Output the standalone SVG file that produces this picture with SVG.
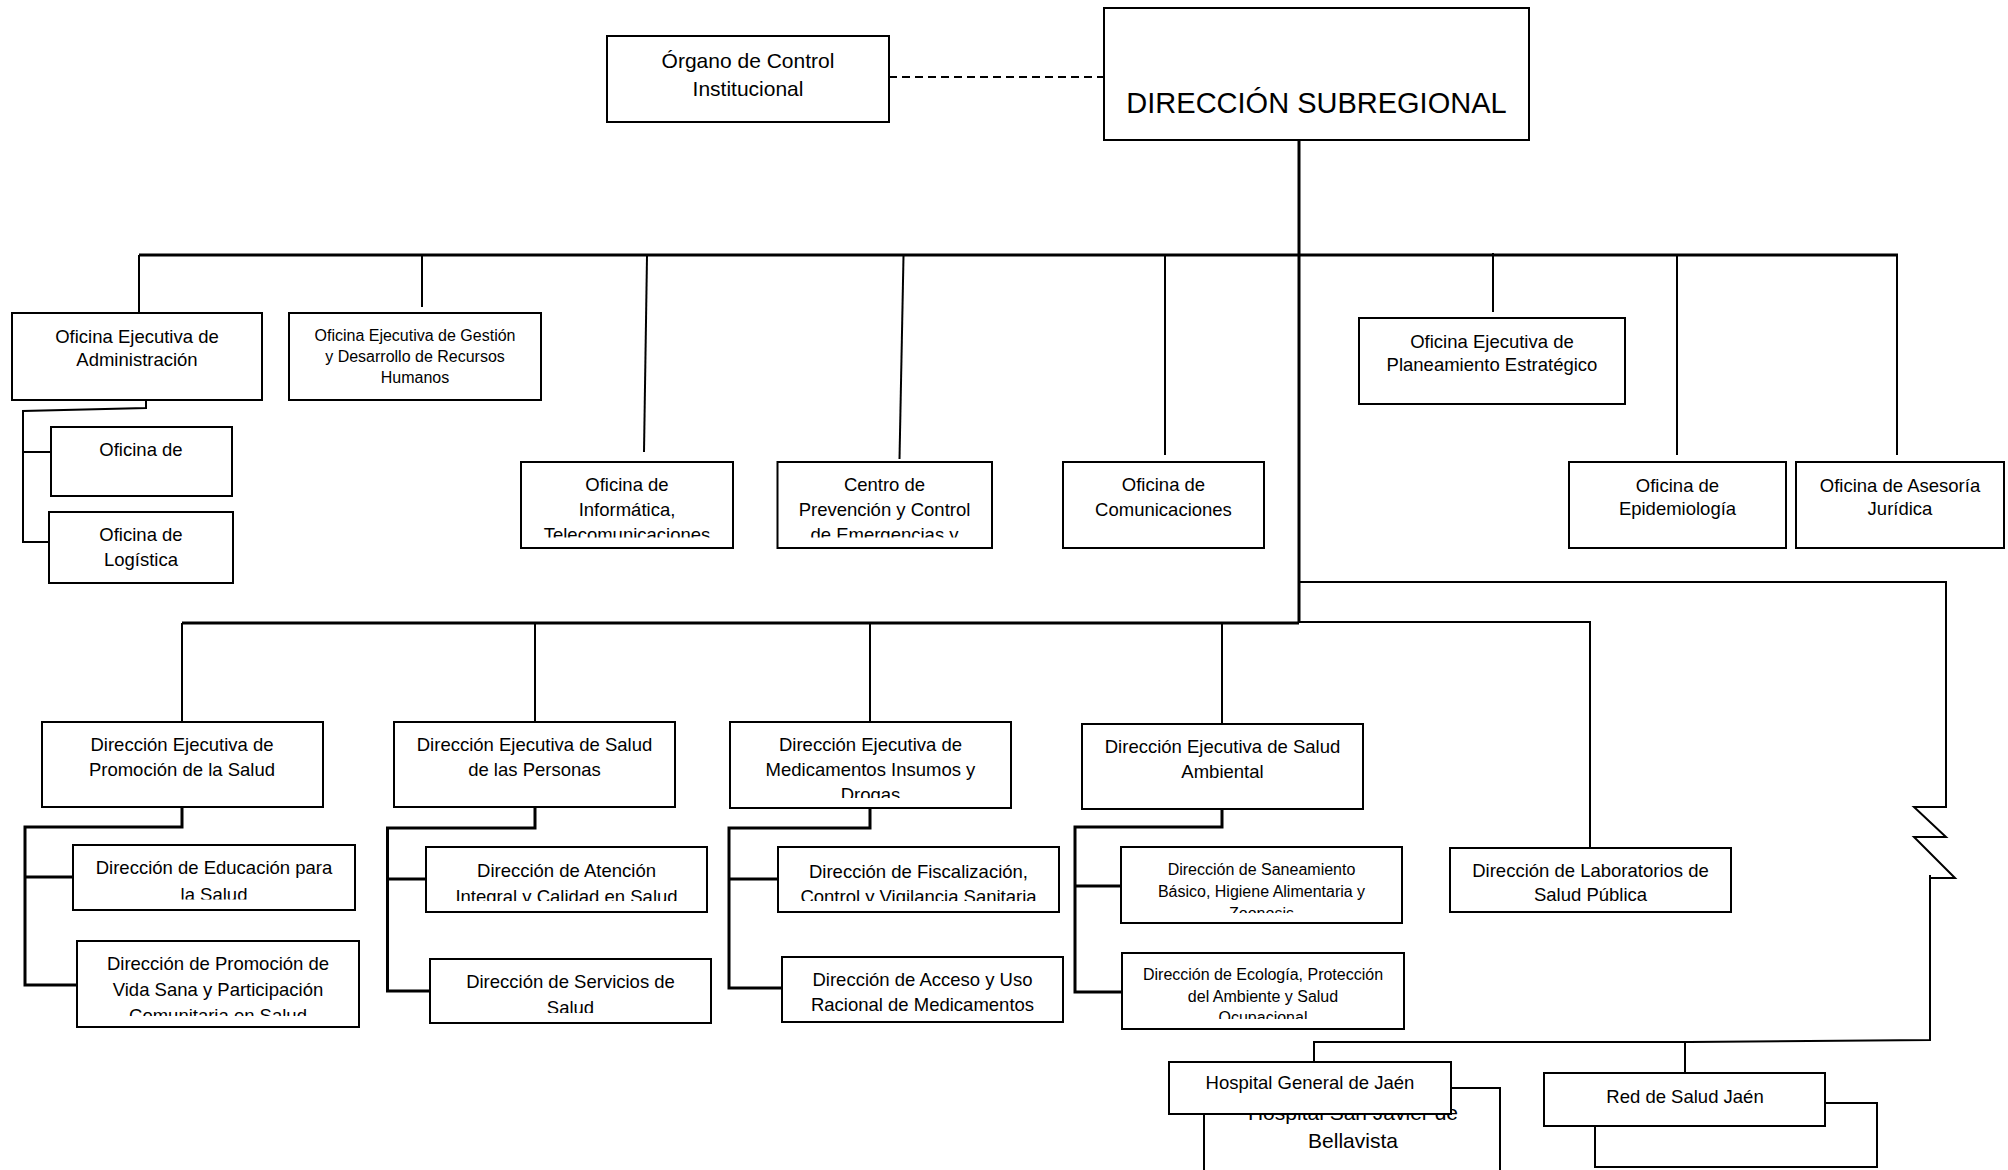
<svg xmlns="http://www.w3.org/2000/svg" width="2008" height="1170" viewBox="0 0 2008 1170">
<style>
.box{fill:#fff;stroke:#000;stroke-width:2}
.c{fill:none;stroke:#000;stroke-width:2}
.k{fill:none;stroke:#000;stroke-width:3}
.d{fill:none;stroke:#000;stroke-width:2;stroke-dasharray:8 5}
text{font-family:"Liberation Sans",Arial,sans-serif;font-size:18.5px;text-anchor:middle;fill:#000}
.s{font-size:16px}
.big{font-size:29px}
.m{font-size:21px}
</style>
<defs>
<clipPath id="cpInfo"><rect x="521" y="462" width="212" height="75.5"/></clipPath>
<clipPath id="cpCentro"><rect x="777" y="462" width="215" height="75.5"/></clipPath>
<clipPath id="cpMed"><rect x="730" y="722" width="281" height="76"/></clipPath>
<clipPath id="cpEdu"><rect x="73" y="845" width="282" height="54.5"/></clipPath>
<clipPath id="cpVida"><rect x="77" y="941" width="282" height="75"/></clipPath>
<clipPath id="cpAten"><rect x="426" y="847" width="281" height="54"/></clipPath>
<clipPath id="cpServ"><rect x="430" y="959" width="281" height="54"/></clipPath>
<clipPath id="cpFisc"><rect x="778" y="847" width="281" height="54"/></clipPath>
<clipPath id="cpSane"><rect x="1121" y="847" width="281" height="66"/></clipPath>
<clipPath id="cpEco"><rect x="1122" y="953" width="282" height="66"/></clipPath>
</defs>

<g id="connectors">
<line class="d" x1="889" y1="77" x2="1104" y2="77"/>
<polyline class="k" points="1299,140 1299,623"/>
<polyline class="k" points="139,255 1898,255"/>
<line class="c" x1="139" y1="255" x2="139" y2="313"/>
<line class="c" x1="422" y1="255" x2="422" y2="307"/>
<line class="c" x1="647" y1="256" x2="644" y2="452"/>
<line class="c" x1="903.5" y1="256" x2="899.5" y2="459"/>
<line class="c" x1="1165" y1="256" x2="1165" y2="455"/>
<line class="c" x1="1493" y1="253" x2="1493" y2="312"/>
<line class="c" x1="1677" y1="256" x2="1677" y2="455"/>
<line class="c" x1="1897" y1="256" x2="1897" y2="455"/>
<polyline class="c" points="146,396 146,408 23,411 23,542 52,542"/>
<line class="c" x1="23" y1="452" x2="51" y2="452"/>
<polyline class="k" points="182,623 1299,623"/>
<polyline class="c" points="1299,622 1590,622 1590,848"/>
<line class="c" x1="182" y1="623" x2="182" y2="722"/>
<line class="c" x1="535" y1="623" x2="535" y2="722"/>
<line class="c" x1="870" y1="623" x2="870" y2="722"/>
<line class="c" x1="1222" y1="623" x2="1222" y2="724"/>
<polyline class="c" points="1299,582 1946,582 1946,807 1914,807 1946,837 1914,837 1955,878 1930,878"/>
<polyline class="c" points="1930,875 1930,1040 1690,1042 1314,1042 1314,1062"/>
<line class="c" x1="1685" y1="1042" x2="1685" y2="1073"/>
<polyline class="k" points="182,807 182,827 25,827 25,985 77,985"/>
<line class="k" x1="25" y1="877" x2="73" y2="877"/>
<polyline class="k" points="535,807 535,828 387.5,828 387.5,991 430,991"/>
<line class="k" x1="387.5" y1="879" x2="426" y2="879"/>
<polyline class="k" points="870,808 870,828 729,828 729,988 782,988"/>
<line class="k" x1="729" y1="879" x2="778" y2="879"/>
<polyline class="k" points="1222,809 1222,827 1075,827 1075,992 1123,992"/>
<line class="k" x1="1075" y1="886" x2="1121" y2="886"/>
</g>

<g id="organo"><rect class="box" x="607" y="36" width="282" height="86"/><text x="748" y="67.5" style="font-size:21px">Órgano de Control</text><text x="748" y="95.5" style="font-size:21px">Institucional</text></g>
<g id="direccion"><rect class="box" x="1104" y="8" width="425" height="132"/><text class="big" x="1316.5" y="113">DIRECCIÓN SUBREGIONAL</text></g>
<g id="administracion"><rect class="box" x="12" y="313" width="250" height="87"/><text x="137" y="343">Oficina Ejecutiva de</text><text x="137" y="366">Administración</text></g>
<g id="gestion"><rect class="box" x="289" y="313" width="252" height="87"/><text class="s" x="415" y="340.5">Oficina Ejecutiva de Gestión</text><text class="s" x="415" y="361.5">y Desarrollo de Recursos</text><text class="s" x="415" y="382.5">Humanos</text></g>
<g id="informatica"><rect class="box" x="521" y="462" width="212" height="86"/><g clip-path="url(#cpInfo)"><text x="627" y="490.5">Oficina de</text><text x="627" y="515.5">Informática,</text><text x="627" y="541">Telecomunicaciones</text></g></g>
<g id="centro"><rect class="box" x="777.5" y="462" width="214.5" height="86"/><g clip-path="url(#cpCentro)"><text x="884.5" y="490.5">Centro de</text><text x="884.5" y="515.5">Prevención y Control</text><text x="884.5" y="541">de Emergencias y</text></g></g>
<g id="comunicaciones"><rect class="box" x="1063" y="462" width="201" height="86"/><text x="1163.5" y="490.5">Oficina de</text><text x="1163.5" y="515.5">Comunicaciones</text></g>
<g id="planeamiento"><rect class="box" x="1359" y="318" width="266" height="86"/><text x="1492" y="348">Oficina Ejecutiva de</text><text x="1492" y="371">Planeamiento Estratégico</text></g>
<g id="epidemiologia"><rect class="box" x="1569" y="462" width="217" height="86"/><text x="1677.5" y="491.5">Oficina de</text><text x="1677.5" y="514.5">Epidemiología</text></g>
<g id="asesoria"><rect class="box" x="1796" y="462" width="208" height="86"/><text x="1900" y="491.5">Oficina de Asesoría</text><text x="1900" y="514.5">Jurídica</text></g>
<g id="oficina-de"><rect class="box" x="51" y="427" width="181" height="69"/><text x="141" y="455.5">Oficina de</text></g>
<g id="logistica"><rect class="box" x="49" y="512" width="184" height="71"/><text x="141" y="540.5">Oficina de</text><text x="141" y="565.5">Logística</text></g>

<g id="promocion"><rect class="box" x="42" y="722" width="281" height="85"/><text x="182" y="750.5">Dirección Ejecutiva de</text><text x="182" y="775.5">Promoción de la Salud</text></g>
<g id="personas"><rect class="box" x="394" y="722" width="281" height="85"/><text x="534.5" y="750.5">Dirección Ejecutiva de Salud</text><text x="534.5" y="775.5">de las Personas</text></g>
<g id="medicamentos"><rect class="box" x="730" y="722" width="281" height="86"/><g clip-path="url(#cpMed)"><text x="870.5" y="750.5">Dirección Ejecutiva de</text><text x="870.5" y="775.5">Medicamentos Insumos y</text><text x="870.5" y="800.5">Drogas</text></g></g>
<g id="ambiental"><rect class="box" x="1082" y="724" width="281" height="85"/><text x="1222.5" y="752.5">Dirección Ejecutiva de Salud</text><text x="1222.5" y="777.5">Ambiental</text></g>
<g id="laboratorios"><rect class="box" x="1450" y="848" width="281" height="64"/><text x="1590.5" y="876.5">Dirección de Laboratorios de</text><text x="1590.5" y="900.5">Salud Pública</text></g>

<g id="educacion"><rect class="box" x="73" y="845" width="282" height="65"/><g clip-path="url(#cpEdu)"><text x="214" y="873.5">Dirección de Educación para</text><text x="214" y="901">la Salud</text></g></g>
<g id="vida-sana"><rect class="box" x="77" y="941" width="282" height="86"/><g clip-path="url(#cpVida)"><text x="218" y="969.5">Dirección de Promoción de</text><text x="218" y="996">Vida Sana y Participación</text><text x="218" y="1022">Comunitaria en Salud</text></g></g>
<g id="atencion"><rect class="box" x="426" y="847" width="281" height="65"/><g clip-path="url(#cpAten)"><text x="566.5" y="876.5">Dirección de Atención</text><text x="566.5" y="903">Integral y Calidad en Salud</text></g></g>
<g id="servicios"><rect class="box" x="430" y="959" width="281" height="64"/><g clip-path="url(#cpServ)"><text x="570.5" y="987.5">Dirección de Servicios de</text><text x="570.5" y="1013.5">Salud</text></g></g>
<g id="fiscalizacion"><rect class="box" x="778" y="847" width="281" height="65"/><g clip-path="url(#cpFisc)"><text x="918.5" y="877.5">Dirección de Fiscalización,</text><text x="918.5" y="903">Control y Vigilancia Sanitaria</text></g></g>
<g id="acceso"><rect class="box" x="782" y="957" width="281" height="65"/><text x="922.5" y="985.5">Dirección de Acceso y Uso</text><text x="922.5" y="1010.5">Racional de Medicamentos</text></g>
<g id="saneamiento"><rect class="box" x="1121" y="847" width="281" height="76"/><g clip-path="url(#cpSane)"><text class="s" x="1261.5" y="874.5">Dirección de Saneamiento</text><text class="s" x="1261.5" y="896.5">Básico, Higiene Alimentaria y</text><text class="s" x="1261.5" y="918.5">Zoonosis</text></g></g>
<g id="ecologia"><rect class="box" x="1122" y="953" width="282" height="76"/><g clip-path="url(#cpEco)"><text class="s" x="1263" y="979.5">Dirección de Ecología, Protección</text><text class="s" x="1263" y="1001.5">del Ambiente y Salud</text><text class="s" x="1263" y="1023">Ocupacional</text></g></g>

<g id="san-javier"><rect class="box" x="1204" y="1088" width="296" height="130"/><text class="m" x="1353" y="1119.5">Hospital San Javier de</text><text class="m" x="1353" y="1148">Bellavista</text></g>
<g id="hospital-general"><rect class="box" x="1169" y="1062" width="282" height="52"/><text x="1310" y="1089">Hospital General de Jaén</text></g>
<g id="red-salud-back"><rect class="box" x="1595" y="1103" width="282" height="64"/></g>
<g id="red-salud"><rect class="box" x="1544" y="1073" width="281" height="53"/><text x="1685" y="1103">Red de Salud Jaén</text></g>
</svg>
